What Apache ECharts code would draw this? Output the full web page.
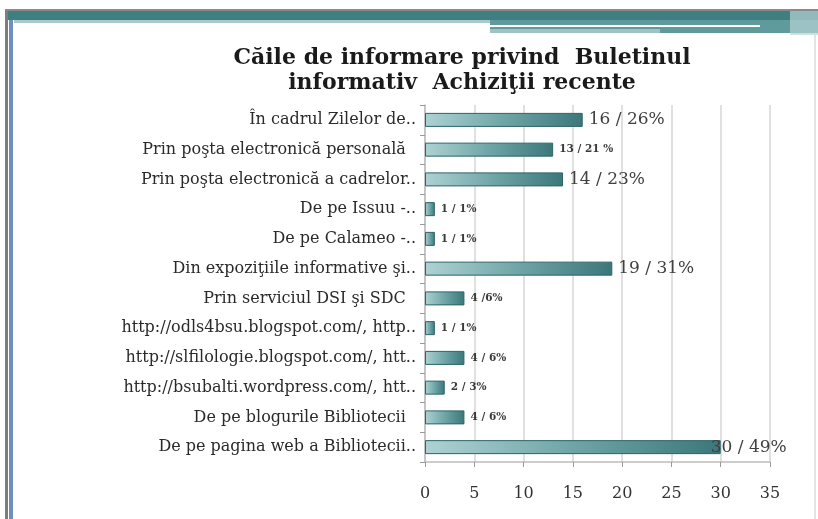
<!DOCTYPE html>
<html>
<head>
<meta charset="utf-8">
<script src="https://cdn.jsdelivr.net/npm/echarts@6/dist/echarts.min.js"></script>
<style>
  html, body { margin: 0; padding: 0; background: #fff; }
  #bar_chart { width: 818px; height: 519px; }
</style>
</head>
<body>
<div id="bar_chart"></div>
<script>
// chart data, top row first
var categories = [
  "În cadrul Zilelor de..",
  "Prin poşta electronică personală  ",
  "Prin poşta electronică a cadrelor..",
  "De pe Issuu -..",
  "De pe Calameo -..",
  "Din expoziţiile informative şi..",
  "Prin serviciul DSI şi SDC  ",
  "http://odls4bsu.blogspot.com/, http..",
  "http://slfilologie.blogspot.com/, htt..",
  "http://bsubalti.wordpress.com/, htt..",
  "De pe blogurile Bibliotecii  ",
  "De pe pagina web a Bibliotecii.."
];
var counts = [16, 13, 14, 1, 1, 19, 4, 1, 4, 2, 4, 30];
var labels = ["16 / 26%", "13 / 21 %", "14 / 23%", "1 / 1%", "1 / 1%", "19 / 31%",
              "4 /6%", "1 / 1%", "4 / 6%", "2 / 3%", "4 / 6%", "30 / 49%"];
var xTicks = [0, 5, 10, 15, 20, 25, 30, 35];

var serif = "'DejaVu Serif', 'Liberation Serif', serif";

function bar_chart(dom) {
  var chart = echarts.init(document.getElementById(dom));

  // big labels for the larger answers, tiny bold ones for the rest
  var seriesData = counts.map(function (v, i) {
    var big = v >= 14;
    return {
      value: v,
      label: {
        formatter: labels[i],
        fontSize: big ? 17 : 10.5,
        fontWeight: big ? "normal" : "bold",
        distance: v === 30 ? -10 : 6,
        color: big ? "#404040" : "#3a3a3a"
      }
    };
  });

  var option = {
    animation: false,
    title: {
      text: "Căile de informare privind  Buletinul\ninformativ  Achiziţii recente",
      left: 457,
      textAlign: "center",
      top: 41,
      textStyle: {
        fontFamily: serif,
        fontWeight: "bold",
        fontSize: 22,
        lineHeight: 25,
        color: "#1a1a1a"
      }
    },
    grid: {
      left: 425,
      right: 48,
      top: 105,
      bottom: 57
    },
    xAxis: {
      type: "value",
      min: 0,
      max: 35,
      interval: 5,
      axisLine: { show: true, lineStyle: { color: "#bdbdbd", width: 1.5 } },
      axisTick: { show: true, length: 5, lineStyle: { color: "#9a9a9a" } },
      axisLabel: {
        margin: 24,
        fontFamily: serif,
        fontSize: 16,
        color: "#333",
        formatter: function (v) { return xTicks.indexOf(v) >= 0 ? String(v) : ""; }
      },
      splitLine: { show: true, lineStyle: { color: "#d6d6d6", width: 1.5 } }
    },
    yAxis: {
      type: "category",
      inverse: true,
      data: categories,
      axisLine: { show: true, lineStyle: { color: "#bdbdbd", width: 1.5 } },
      axisTick: { show: true, length: 5, lineStyle: { color: "#9a9a9a" } },
      axisLabel: {
        margin: 9,
        fontFamily: serif,
        fontSize: 16,
        color: "#2a2a2a"
      }
    },
    series: [
      {
        type: "bar",
        data: seriesData,
        barWidth: 14,
        itemStyle: {
          color: new echarts.graphic.LinearGradient(0, 0, 1, 0, [
            { offset: 0, color: "#aed2d3" },
            { offset: 0.5, color: "#6fa5a7" },
            { offset: 1, color: "#3b7779" }
          ]),
          borderColor: "#2d6466",
          borderWidth: 1
        },
        label: {
          show: true,
          position: "right",
          fontFamily: serif
        }
      }
    ],
    // slide frame decoration
    graphic: [
      { type: "rect", shape: { x: 5, y: 9, width: 813, height: 2 }, style: { fill: "#8a8a8a" } },
      { type: "rect", shape: { x: 5, y: 11, width: 813, height: 9 }, style: { fill: "#3f7f82" } },
      { type: "rect", shape: { x: 14, y: 20, width: 804, height: 3 }, style: { fill: "#a9c9ca" } },
      { type: "rect", shape: { x: 490, y: 20, width: 328, height: 13 }, style: { fill: "#5f9b9d" } },
      { type: "rect", shape: { x: 490, y: 25, width: 270, height: 2 }, style: { fill: "#ffffff" } },
      { type: "rect", shape: { x: 490, y: 29, width: 170, height: 4 }, style: { fill: "#9fc3c4" } },
      { type: "rect", shape: { x: 790, y: 11, width: 28, height: 24 }, style: { fill: "#b7d3d4", opacity: 0.7 } },
      { type: "rect", shape: { x: 5, y: 11, width: 3, height: 508 }, style: { fill: "#7d7d7d" } },
      { type: "rect", shape: { x: 9, y: 20, width: 4, height: 499 }, style: { fill: "#6d8fc2" } },
      { type: "rect", shape: { x: 814, y: 35, width: 2, height: 484 }, style: { fill: "#e4e4e4" } }
    ]
  };

  chart.setOption(option);
}

bar_chart("bar_chart");
</script>
</body>
</html>
